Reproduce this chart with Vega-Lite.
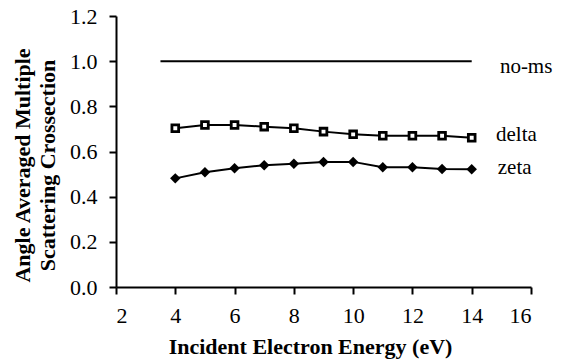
{
  "$schema": "https://vega.github.io/schema/vega-lite/v6.json",
  "width": 415,
  "height": 271,
  "autosize": {"type": "none"},
  "padding": {"left": 116, "top": 16, "right": 33, "bottom": 73},
  "background": "white",
  "config": {
    "view": {"stroke": null},
    "font": "Liberation Serif, Times New Roman, serif"
  },
  "datasets": {
    "series": [
      {"series": "no-ms", "energy": 3.5, "value": 1.0},
      {"series": "no-ms", "energy": 14, "value": 1.0},
      {"series": "delta", "energy": 4, "value": 0.703},
      {"series": "delta", "energy": 5, "value": 0.717},
      {"series": "delta", "energy": 6, "value": 0.717},
      {"series": "delta", "energy": 7, "value": 0.71},
      {"series": "delta", "energy": 8, "value": 0.703},
      {"series": "delta", "energy": 9, "value": 0.688},
      {"series": "delta", "energy": 10, "value": 0.676},
      {"series": "delta", "energy": 11, "value": 0.67},
      {"series": "delta", "energy": 12, "value": 0.67},
      {"series": "delta", "energy": 13, "value": 0.67},
      {"series": "delta", "energy": 14, "value": 0.661},
      {"series": "zeta", "energy": 4, "value": 0.481},
      {"series": "zeta", "energy": 5, "value": 0.508},
      {"series": "zeta", "energy": 6, "value": 0.526},
      {"series": "zeta", "energy": 7, "value": 0.539},
      {"series": "zeta", "energy": 8, "value": 0.546},
      {"series": "zeta", "energy": 9, "value": 0.554},
      {"series": "zeta", "energy": 10, "value": 0.554},
      {"series": "zeta", "energy": 11, "value": 0.530},
      {"series": "zeta", "energy": 12, "value": 0.530},
      {"series": "zeta", "energy": 13, "value": 0.523},
      {"series": "zeta", "energy": 14, "value": 0.521}
    ],
    "labels": [
      {"label": "no-ms", "energy": 14.95, "value": 0.975},
      {"label": "delta", "energy": 14.82, "value": 0.673},
      {"label": "zeta", "energy": 14.88, "value": 0.527}
    ]
  },
  "layer": [
    {
      "data": {"name": "series"},
      "mark": {"type": "line", "color": "black", "strokeWidth": 2},
      "encoding": {
        "x": {
          "field": "energy", "type": "quantitative",
          "scale": {"domain": [2, 16], "nice": false, "zero": false},
          "axis": {
            "values": [2, 4, 6, 8, 10, 12, 14, 16], "title": "Incident Electron Energy (eV)",
            "grid": false, "domainColor": "black", "domainWidth": 2, "tickColor": "black", "tickWidth": 2, "tickSize": 7,
            "labelColor": "black", "labelFont": "Liberation Serif, Times New Roman, serif", "labelFontSize": 22, "labelPadding": 11,
            "titleFont": "Liberation Serif, Times New Roman, serif", "titleFontWeight": "bold", "titleFontSize": 22, "titleColor": "black",
            "titlePadding": 10, "titleX": 194
          }
        },
        "y": {
          "field": "value", "type": "quantitative",
          "scale": {"domain": [0, 1.2], "nice": false},
          "axis": {
            "values": [0, 0.2, 0.4, 0.6, 0.8, 1.0, 1.2], "format": ".1f", "title": ["Angle Averaged Multiple", "Scattering Crossection"],
            "grid": false, "domainColor": "black", "domainWidth": 2, "tickColor": "black", "tickWidth": 2, "tickSize": 7,
            "labelColor": "black", "labelFont": "Liberation Serif, Times New Roman, serif", "labelFontSize": 22, "labelPadding": 12,
            "titleFont": "Liberation Serif, Times New Roman, serif", "titleFontWeight": "bold", "titleFontSize": 22, "titleColor": "black",
            "titlePadding": 10, "titleLineHeight": 25, "titleY": 149
          }
        },
        "detail": {"field": "series"}
      }
    },
    {
      "data": {"name": "series"},
      "transform": [{"filter": "datum.series == 'delta'"}],
      "mark": {"type": "point", "shape": "square", "filled": true, "fill": "white", "stroke": "black", "strokeWidth": 2.8, "size": 45, "opacity": 1},
      "encoding": {
        "x": {"field": "energy", "type": "quantitative"},
        "y": {"field": "value", "type": "quantitative"}
      }
    },
    {
      "data": {"name": "series"},
      "transform": [{"filter": "datum.series == 'zeta'"}],
      "mark": {"type": "point", "shape": "diamond", "filled": true, "color": "black", "size": 110, "opacity": 1},
      "encoding": {
        "x": {"field": "energy", "type": "quantitative"},
        "y": {"field": "value", "type": "quantitative"}
      }
    },
    {
      "data": {"name": "labels"},
      "mark": {"type": "text", "align": "left", "baseline": "middle", "font": "Liberation Serif, Times New Roman, serif", "fontSize": 21, "color": "black"},
      "encoding": {
        "x": {"field": "energy", "type": "quantitative"},
        "y": {"field": "value", "type": "quantitative"},
        "text": {"field": "label"}
      }
    }
  ]
}
